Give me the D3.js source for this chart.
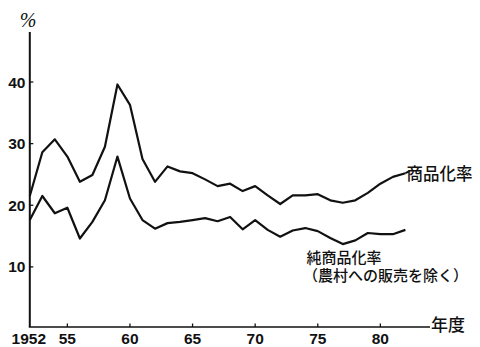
<!DOCTYPE html>
<html><head><meta charset="utf-8">
<script src="https://cdn.jsdelivr.net/npm/d3@7/dist/d3.min.js"></script>
<style>
html,body{margin:0;padding:0;background:#fff;}
svg{display:block;}
.num{font-family:"Liberation Sans","DejaVu Sans",sans-serif;font-weight:bold;font-size:15.5px;fill:#111;}
.cjk{font-family:"Noto Sans CJK JP","Noto Sans CJK SC",sans-serif;fill:#111;font-weight:500;}
</style>
</head><body>
<script>
const years = d3.range(1952, 1983);
const commercialRate = [21.5,28.6,30.7,27.9,23.8,24.9,29.5,39.6,36.3,27.5,23.8,26.3,25.5,25.2,24.2,23.1,23.5,22.3,23.1,21.6,20.2,21.6,21.6,21.8,20.8,20.4,20.8,22.0,23.5,24.6,25.2];
const netCommercialRate = [17.6,21.5,18.7,19.6,14.6,17.3,20.8,27.9,21.1,17.6,16.2,17.1,17.3,17.6,17.9,17.4,18.1,16.1,17.6,16.0,14.9,15.9,16.3,15.8,14.7,13.7,14.3,15.5,15.3,15.3,16.0];
const xTicks = [1952,1955,1960,1965,1970,1975,1980];
const xTickLabels = ["1952","55","60","65","70","75","80"];
const yTicks = [10,20,30,40];
const seriesLabel1 = "商品化率";
const seriesLabel2a = "純商品化率";
const seriesLabel2b = "（農村への販売を除く）";
const xAxisTitle = "年度";
const yAxisTitle = "%";

const W = 480, H = 347;
const svg = d3.select("body").append("svg").attr("width", W).attr("height", H);

const x = d3.scaleLinear().domain([1952, 1982]).range([29.8, 405.4]);
const y = d3.scaleLinear().domain([0, 40]).range([328.5, 82]);
const axisY = 327, axisX = 29.8;

// axes
svg.append("line").attr("x1", axisX).attr("x2", axisX).attr("y1", 32).attr("y2", axisY)
  .attr("stroke", "#111").attr("stroke-width", 2);
svg.append("line").attr("x1", axisX - 1).attr("x2", 430).attr("y1", axisY).attr("y2", axisY)
  .attr("stroke", "#111").attr("stroke-width", 1.6);

// x ticks & labels
const xg = svg.append("g");
xTicks.forEach((t, i) => {
  if (i > 0) xg.append("line").attr("x1", x(t)).attr("x2", x(t)).attr("y1", axisY).attr("y2", axisY - 3.5)
    .attr("stroke", "#111").attr("stroke-width", 1.3);
  xg.append("text").attr("class", "num").attr("x", x(t) + (i === 0 ? -1 : 0)).attr("y", 344)
    .attr("text-anchor", "middle").text(xTickLabels[i]);
});
// y ticks & labels
const yg = svg.append("g");
yTicks.forEach(t => {
  yg.append("line").attr("x1", axisX).attr("x2", axisX + 3.5).attr("y1", y(t)).attr("y2", y(t))
    .attr("stroke", "#111").attr("stroke-width", 1.3);
  yg.append("text").attr("class", "num").attr("x", 25.5).attr("y", y(t)).attr("dy", "0.36em")
    .attr("text-anchor", "end").text(t);
});

// titles
svg.append("text").attr("x", 28).attr("y", 27).attr("text-anchor", "middle")
  .attr("font-family", "Liberation Serif, serif").attr("font-style", "italic").attr("font-size", 20)
  .attr("fill", "#111").text(yAxisTitle);
svg.append("text").attr("class", "cjk").attr("x", 431).attr("y", 325).attr("dy", "0.36em")
  .attr("font-size", 17).text(xAxisTitle);

// lines
const line = d3.line().x((d, i) => x(years[i])).y(d => y(d));
svg.append("path").datum(commercialRate).attr("d", line)
  .attr("fill", "none").attr("stroke", "#111").attr("stroke-width", 2.2).attr("stroke-linejoin", "round");
svg.append("path").datum(netCommercialRate).attr("d", line)
  .attr("fill", "none").attr("stroke", "#111").attr("stroke-width", 2.2).attr("stroke-linejoin", "round");

// label for upper series with leader
const lastX = x(years[years.length - 1]), lastY = y(commercialRate[commercialRate.length - 1]);
svg.append("line").attr("x1", lastX).attr("y1", lastY).attr("x2", lastX + 4).attr("y2", lastY - 2)
  .attr("stroke", "#111").attr("stroke-width", 2);
svg.append("text").attr("class", "cjk").attr("x", 406.5).attr("y", 174).attr("dy", "0.36em")
  .attr("font-size", 16.5).text(seriesLabel1);

// lower series label (two lines in one text element)
const lbl2 = svg.append("text").attr("class", "cjk").attr("font-size", 15);
lbl2.append("tspan").attr("x", 306.5).attr("y", 263).text(seriesLabel2a);
lbl2.append("tspan").attr("x", 303).attr("y", 281).text(seriesLabel2b);
</script>
</body></html>
